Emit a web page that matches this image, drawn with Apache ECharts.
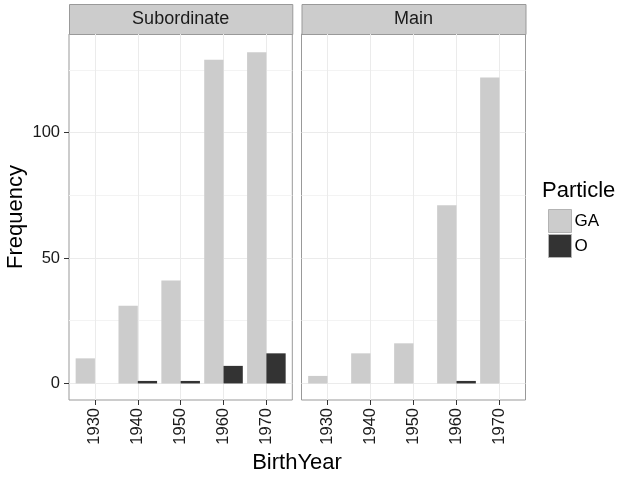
<!DOCTYPE html>
<html><head><meta charset="utf-8">
<script src="https://cdn.jsdelivr.net/npm/echarts@6/dist/echarts.min.js"></script>
<style>html,body{margin:0;padding:0;background:#fff}#c{width:618px;height:477px}</style>
</head><body><div id="c"></div>
<script>
// ---- data ----
const years = [1930, 1940, 1950, 1960, 1970];
const panels = ['Subordinate', 'Main'];
const particles = ['GA', 'O'];
const subordinateGA = [10, 31, 41, 129, 132];
const subordinateO = [null, 1, 1, 7, 12];
const mainGA = [3, 12, 16, 71, 122];
const mainO = [null, null, null, 1, null];
const yMajorTicks = [0, 50, 100];
const yMinorTicks = [25, 75, 125];

// ---- styling / layout ----
const FONT = 'Liberation Sans, Arial, Helvetica, sans-serif';
const colors = { GA: '#cccccc', O: '#333333' };
const HALF = 4.5; // dodge half-width (years)
const grids = [
  { left: 69, top: 34, width: 223.3, height: 366 },
  { left: 301.5, top: 34, width: 224, height: 366 }
];
const panelData = [
  { GA: subordinateGA, O: subordinateO },
  { GA: mainGA, O: mainO }
];

function makeRender(side) {
  return function (params, api) {
    const x = api.value(0), v = api.value(1);
    const a = api.coord([side < 0 ? x - HALF : x, v]);
    const b = api.coord([side < 0 ? x : x + HALF, 0]);
    return {
      type: 'rect',
      shape: { x: a[0], y: a[1], width: b[0] - a[0], height: b[1] - a[1] },
      style: api.style()
    };
  };
}

const xAxes = [], yAxes = [], series = [], graphics = [];
grids.forEach((g, gi) => {
  xAxes.push({
    type: 'value', gridIndex: gi, min: 1923.95, max: 1976.05, position: 'bottom',
    axisLine: { show: false, onZero: false },
    axisTick: { show: true, customValues: years, length: 5, lineStyle: { color: '#333', width: 1 } },
    axisLabel: { customValues: years, rotate: 90, fontSize: 16.5, color: '#1a1a1a', fontFamily: FONT, margin: 8,
      formatter: v => String(v) },
    splitLine: { show: true, lineStyle: { color: '#ebebeb', width: 1 } }
  });
  yAxes.push({
    type: 'value', gridIndex: gi, min: -6.6, max: 139.3, position: 'left',
    axisLine: { show: false, onZero: false },
    axisTick: { show: gi === 0, customValues: yMajorTicks, length: 5, lineStyle: { color: '#333', width: 1 } },
    axisLabel: { show: gi === 0, customValues: yMajorTicks, fontSize: 16.5, color: '#1a1a1a', fontFamily: FONT, margin: 9,
      formatter: v => String(v) },
    splitLine: { show: true, lineStyle: { color: '#ebebeb', width: 1 } }
  });
  yAxes.push({
    type: 'value', gridIndex: gi, min: -6.6, max: 139.3, position: 'left',
    axisLine: { show: false, onZero: false },
    axisTick: { show: false, customValues: yMinorTicks },
    axisLabel: { show: false, customValues: yMinorTicks },
    splitLine: { show: true, lineStyle: { color: '#f3f3f3', width: 1 } }
  });
  particles.forEach((p, pi) => {
    const arr = panelData[gi][p];
    series.push({
      name: p, type: 'custom', xAxisIndex: gi, yAxisIndex: gi * 2,
      renderItem: makeRender(pi === 0 ? -1 : 1),
      itemStyle: { color: colors[p] },
      encode: { x: 0, y: 1 },
      data: years.map((y, i) => [y, arr[i]]).filter(d => d[1] != null),
      z: 3
    });
  });
  graphics.push({
    type: 'rect', left: g.left, top: 4,
    shape: { width: g.width, height: 30 },
    style: { fill: '#cccccc', stroke: '#999999', lineWidth: 1 }
  });
  graphics.push({
    type: 'text', x: g.left + g.width / 2, y: 19,
    style: { text: panels[gi], fontSize: 18, fontFamily: FONT, fill: '#1a1a1a', textAlign: 'center', textVerticalAlign: 'middle' }
  });
});

graphics.push({
  type: 'text', x: 16, y: 217, rotation: Math.PI / 2,
  style: { text: 'Frequency', fontSize: 22, fontFamily: FONT, fill: '#000', textAlign: 'center', textVerticalAlign: 'middle' }
});
graphics.push({
  type: 'text', x: 297, y: 463,
  style: { text: 'BirthYear', fontSize: 22, fontFamily: FONT, fill: '#000', textAlign: 'center', textVerticalAlign: 'middle' }
});
graphics.push({
  type: 'text', x: 542, y: 191,
  style: { text: 'Particle', fontSize: 22, fontFamily: FONT, fill: '#000', textAlign: 'left', textVerticalAlign: 'middle' }
});

const chart = echarts.init(document.getElementById('c'), null, { renderer: 'canvas' });
chart.setOption({
  animation: false,
  backgroundColor: '#ffffff',
  grid: grids.map(g => Object.assign({ show: true, borderColor: '#999999', borderWidth: 1, backgroundColor: '#ffffff', containLabel: false }, g)),
  xAxis: xAxes,
  yAxis: yAxes,
  legend: {
    orient: 'vertical', left: 543, top: 204,
    itemWidth: 23, itemHeight: 23, itemGap: 1,
    data: particles.map(p => ({ name: p, icon: 'rect', itemStyle: { color: colors[p], borderColor: '#b3b3b3', borderWidth: 1 } })),
    textStyle: { fontSize: 17, fontFamily: FONT, color: '#000', padding: [0, 0, 0, -2] },
    selectedMode: false
  },
  series: series,
  graphic: graphics
});
</script>
</body></html>
